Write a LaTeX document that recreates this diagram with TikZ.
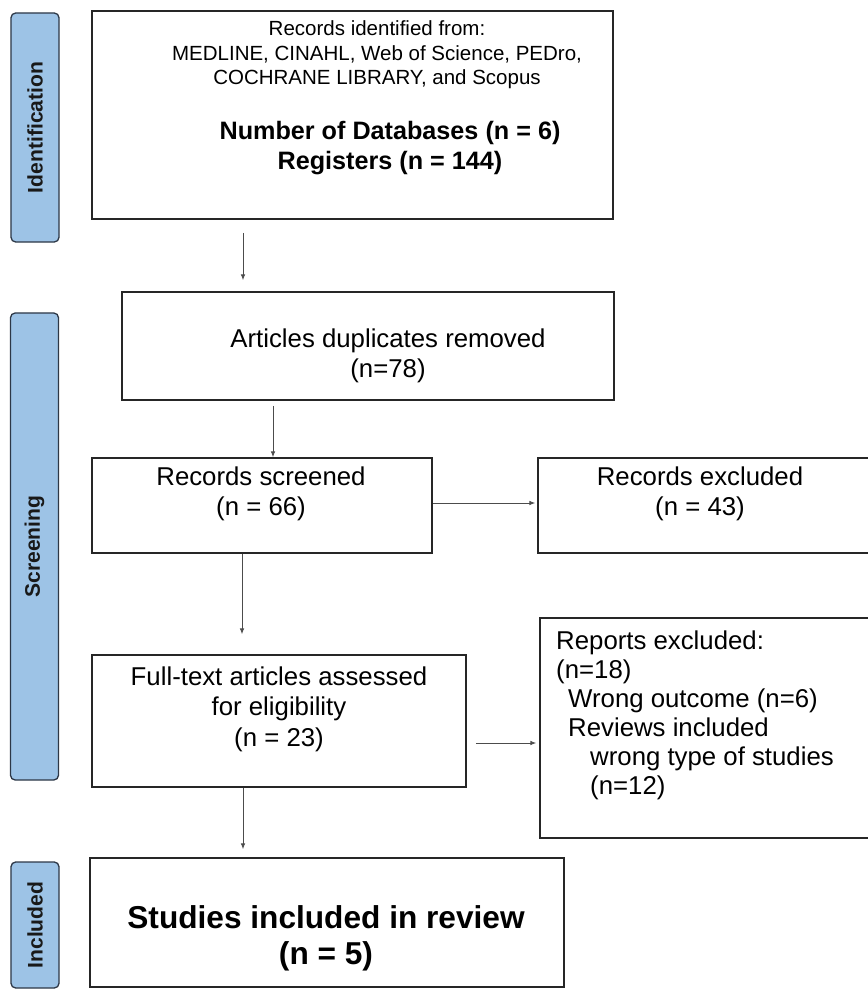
\documentclass[tikz,border=0pt]{standalone}
\usepackage{fontspec}
\setmainfont{Liberation Sans}
\usetikzlibrary{arrows.meta}
\definecolor{barblue}{RGB}{157,195,230}
\definecolor{barline}{RGB}{45,55,70}
\begin{document}
\begin{tikzpicture}[x=0.03cm,y=-0.03cm,
  box/.style={draw=black!85,line width=1.3pt,inner sep=0pt},
  phase/.style={draw=barline,fill=barblue,line width=1.1pt,rounded corners=4pt,rotate=90,inner sep=0pt,
    minimum height=1.44cm,font=\bfseries\fontsize{18}{20}\selectfont,text=black!90},
  txt/.style={align=center,font=\fontsize{22}{26}\selectfont},
  arr/.style={-{Latex[length=5pt,width=4pt]},line width=0.8pt,draw=black!70}]
\useasboundingbox (0,0) rectangle (867,990);
% phases
\node[phase,minimum width=6.87cm] (idbar) at (35,127.5) {Identification};
\node[phase,minimum width=14.01cm] (scrbar) at (34.5,546.5) {Screening};
\node[phase,minimum width=3.78cm] (incbar) at (35,925) {Included};
% boxes
\node[box,minimum width=15.63cm,minimum height=6.24cm] (ident) at (352.5,115) {};
\node[align=center,font=\fontsize{17.5}{21}\selectfont] (identsrc) at (377,55)
  {Records identified from:\\MEDLINE, CINAHL, Web of Science, PEDro,\\COCHRANE LIBRARY, and Scopus};
\node[align=center,font=\bfseries\fontsize{21.5}{25.6}\selectfont] (identnum) at (390,148)
  {Number of Databases (n = 6)\\Registers (n = 144)};
\node[box,minimum width=14.76cm,minimum height=3.24cm] (dupl) at (368,346) {};
\node[txt] (dupltxt) at (388,356) {Articles duplicates removed\\(n=78)};
\node[box,minimum width=10.2cm,minimum height=2.85cm] (screened) at (262,505.5) {};
\node[txt] (screenedtxt) at (261,494) {Records screened\\(n = 66)};
\node[box,minimum width=9.96cm,minimum height=2.85cm] (excl) at (704,505.5) {};
\node[txt] (excltxt) at (700,494) {Records excluded\\(n = 43)};
\node[box,minimum width=11.22cm,minimum height=3.96cm] (fulltext) at (279,721) {};
\node[txt] (fulltexttxt) at (279,709) {Full-text articles assessed\\for eligibility\\(n = 23)};
\node[box,minimum width=9.9cm,minimum height=6.6cm] (reports) at (705,728) {};
\node[align=left,anchor=north west,inner sep=0pt,font=\fontsize{22}{24.7}\selectfont] (reportstxt) at (556,631)
  {Reports excluded:\\(n=18)\\\hspace*{0.36cm}Wrong outcome (n=6)\\\hspace*{0.36cm}Reviews included\\
   \hspace*{1.02cm}wrong type of studies\\\hspace*{1.02cm}(n=12)};
\node[box,minimum width=14.22cm,minimum height=3.87cm] (included) at (327,922.5) {};
\node[align=center,font=\bfseries\fontsize{27}{30.7}\selectfont] (includedtxt) at (326,938)
  {Studies included in review\\(n = 5)};
% arrows
\coordinate (c1) at (243,0);
\coordinate (c2) at (273,0);
\coordinate (c3) at (242,0);
\coordinate (r1) at (0,503);
\coordinate (r2) at (0,743);
\draw[arr,shorten <=0.39cm,shorten >=0.33cm] (ident.south -| c1) -- (dupl.north -| c1);
\draw[arr,shorten <=0.15cm] (dupl.south -| c2) -- (screened.north -| c2);
\draw[arr,shorten >=0.06cm] (screened.east |- r1) -- (excl.west |- r1);
\draw[arr,shorten >=0.6cm] (screened.south -| c3) -- (fulltext.north -| c3);
\draw[arr,shorten <=0.27cm,shorten >=0.09cm] (fulltext.east |- r2) -- (reports.west |- r2);
\draw[arr,shorten >=0.24cm] (fulltext.south -| c1) -- (included.north -| c1);
\end{tikzpicture}
\end{document}
